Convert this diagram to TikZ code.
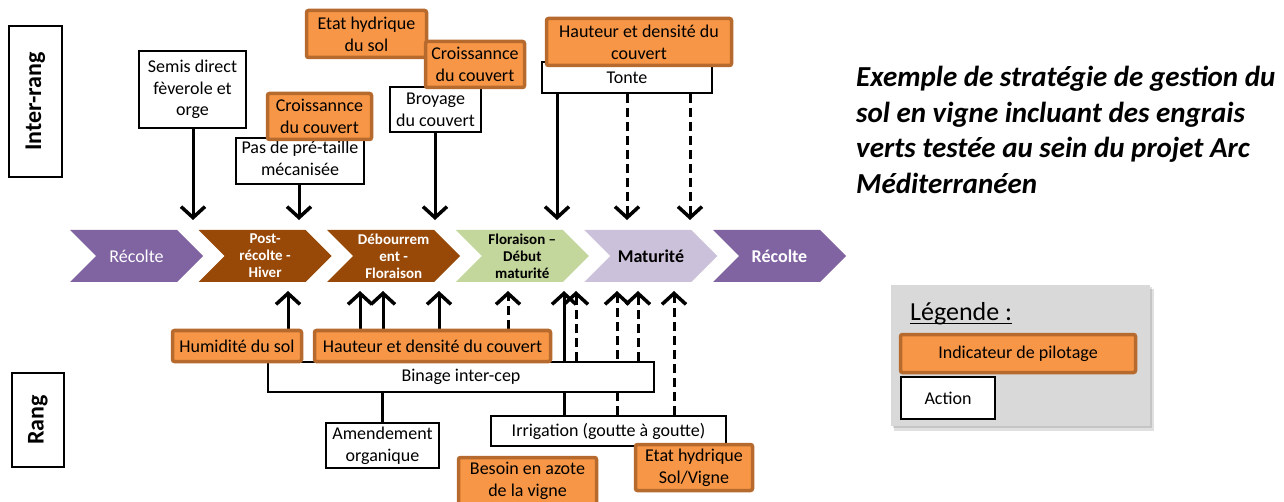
\documentclass[tikz,border=0pt]{standalone}
\usepackage{fontspec}
\setmainfont{Carlito}
\usetikzlibrary{arrows.meta}
\pgfdeclarelayer{bg}
\pgfsetlayers{bg,main}
\definecolor{orfill}{HTML}{F79646}
\definecolor{orbord}{HTML}{B66A2E}
\definecolor{purp}{HTML}{8064A2}
\definecolor{brwn}{HTML}{984807}
\definecolor{grn}{HTML}{C3D69B}
\definecolor{lav}{HTML}{CCC1DA}
\definecolor{leggray}{HTML}{D9D9D9}
\newcommand\fbody{\fontsize{18}{21.7}\selectfont}
\newcommand\fchev{\fontsize{15}{17}\selectfont\bfseries}
\newcommand\fchevbig{\fontsize{18}{21}\selectfont}
\newcommand\mychev[2]{\fill[#1] #2 -- ++(107,0) -- ++(26,26) -- ++(-26,26) -- ++(-107,0) -- ++(26,-26) -- cycle;}
\begin{document}
\begin{tikzpicture}[x=1pt,y=-1pt,
  ind/.style={draw=orbord, fill=orfill, line width=3.5pt, rounded corners=2pt, inner sep=0pt, align=center, font=\fbody},
  act/.style={draw=black, fill=white, line width=1.6pt, inner sep=0pt, align=center, font=\fbody},
  lab/.style={draw=black, fill=white, line width=1.6pt, inner sep=0pt, font=\fontsize{24}{28}\selectfont\bfseries},
  chevtxt/.style={align=center, inner sep=0pt},
  arr/.style={line width=3pt, -{Straight Barb[length=11pt,width=24pt,line width=3.5pt]}},
  dsh/.style={arr, dash pattern=on 9pt off 5pt}
]
\useasboundingbox (0,0) rectangle (1284,502);

% side labels
\node[lab, minimum width=53pt, minimum height=151pt] (inter) at (35.5,101.5) {};
\node[rotate=90, font=\fontsize{24}{28}\selectfont\bfseries] at (inter.center) {Inter-rang};
\node[lab, minimum width=52pt, minimum height=94pt] (rang) at (38,420) {};
\node[rotate=90, font=\fontsize{24}{28}\selectfont\bfseries] at (rang.center) {Rang};

% chevrons
\mychev{purp}{(70,230)}
\mychev{brwn}{(198.6,230)}
\mychev{brwn}{(327.2,230)}
\mychev{grn}{(455.8,230)}
\mychev{lav}{(584.4,230)}
\mychev{purp}{(713,230)}
\node[chevtxt, text=white, font=\fchevbig] (c1) at (136.5,256) {Récolte};
\node[chevtxt, text=white, font=\fchev] (c2) at (265.1,256) {Post-\\récolte -\\Hiver};
\node[chevtxt, text=white, font=\fchev] (c3) at (393.7,256) {Débourrem\\ent -\\Floraison};
\node[chevtxt, text=black, font=\fchev] (c4) at (522.3,256) {Floraison –\\Début\\maturité};
\node[chevtxt, text=black, font=\fchevbig\bfseries] (c5) at (650.9,256) {Maturité};
\node[chevtxt, text=white, font=\fchevbig\bfseries] (c6) at (779.5,256) {Récolte};

% top boxes
\node[act, minimum width=107pt, minimum height=77pt] (semis) at (192.5,89.5) {Semis direct\\fèverole et\\orge};
\node[act, minimum width=128pt, minimum height=46pt] (pas) at (300,161) {\\[-14pt]Pas de pré-taille\\mécanisée};
\node[ind, minimum width=104pt, minimum height=46pt] (cr1) at (319.5,116.5) {Croissannce\\du couvert};
\node[ind, minimum width=120pt, minimum height=47pt] (etat1) at (366.5,34) {Etat hydrique\\du sol};
\node[act, minimum width=91pt, minimum height=45pt] (broy) at (435.5,109.5) {Broyage\\du couvert};
\node[ind, minimum width=99pt, minimum height=46pt] (cr2) at (475,64.5) {Croissannce\\du couvert};
\node[act, minimum width=170pt, minimum height=31pt] (tonte) at (627,77.5) {Tonte};
\node[ind, minimum width=185pt, minimum height=47pt] (haut1) at (639,42) {Hauteur et densité du\\couvert};

% bottom boxes
\node[act, minimum width=386pt, minimum height=30pt] (binage) at (461,377) {Binage inter-cep};
\node[ind, minimum width=129pt, minimum height=31pt] (hum) at (237,346) {Humidité du sol};
\node[ind, minimum width=236pt, minimum height=31pt] (haut2) at (432.5,346) {Hauteur et densité du couvert};
\node[act, minimum width=113pt, minimum height=45pt] (amend) at (382.5,445.5) {Amendement\\organique};
\node[act, minimum width=235pt, minimum height=30pt] (irrig) at (608.5,431) {Irrigation (goutte à goutte)};
\node[ind, minimum width=138pt, minimum height=47pt] (besoin) at (527.5,481) {Besoin en azote\\de la vigne};
\node[ind, minimum width=117pt, minimum height=46pt] (etat2) at (694,467.5) {Etat hydrique\\Sol/Vigne};

% arrow tips
\coordinate (a1) at (193,220);
\coordinate (a2) at (299,220);
\coordinate (a3) at (435,220);
\coordinate (a4) at (557,220);
\coordinate (a5) at (627,220);
\coordinate (a6) at (690,220);
\coordinate (b1) at (288,291);
\coordinate (b2) at (360,291);
\coordinate (b3) at (383,291);
\coordinate (b4) at (439,291);
\coordinate (b5) at (508,291);
\coordinate (b6) at (564,291);
\coordinate (b7) at (576,291);
\coordinate (b8) at (617,291);
\coordinate (b9) at (638,291);
\coordinate (b10) at (674,291);

\begin{pgfonlayer}{bg}
\draw[arr] (semis.south -| a1) -- (a1);
\draw[arr] (pas.south -| a2) -- (a2);
\draw[arr] (broy.south -| a3) -- (a3);
\draw[arr] (tonte.south -| a4) -- (a4);
\draw[dsh] (tonte.south -| a5) -- (a5);
\draw[dsh] (tonte.south -| a6) -- (a6);
\draw[arr] (hum.north -| b1) -- (b1);
\draw[arr] (haut2.north -| b2) -- (b2);
\draw[arr] (haut2.north -| b3) -- (b3);
\draw[arr] (haut2.north -| b4) -- (b4);
\draw[dsh] (haut2.north -| b5) -- (b5);
\draw[arr] (irrig.north -| b6) -- (b6);
\draw[dsh] (binage.north -| b7) -- (b7);
\draw[dsh] (irrig.north -| b8) -- (b8);
\draw[dsh] (binage.north -| b9) -- (b9);
\draw[dsh] (irrig.north -| b10) -- (b10);
\draw[line width=3pt] (amend.north) -- (amend.north |- binage.south);
\end{pgfonlayer}

% title (base = baseline of last line)
\node[anchor=base west, align=left, inner sep=0pt, font=\fontsize{29}{35.5}\selectfont\bfseries\itshape] (title) at (856,193.5)
  {Exemple de stratégie de gestion du\\sol en vigne incluant des engrais\\verts testée au sein du projet Arc\\Méditerranéen};

% legend
\fill[black, opacity=0.12] (894,289) rectangle (1154,431);
\fill[black, opacity=0.12] (893,287) rectangle (1152,428);
\node[fill=leggray, minimum width=259pt, minimum height=141pt, inner sep=0pt] (legend) at (1020.5,355.5) {};
\node[anchor=base west, inner sep=0pt, font=\fontsize{26}{30}\selectfont] (legt) at (910,321) {Légende :};
\draw[line width=1pt] ([yshift=-3pt]legt.base west) -- ([yshift=-3pt]legt.base east);
\node[ind, minimum width=235pt, minimum height=38pt] (legind) at (1018,353.5) {Indicateur de pilotage};
\node[act, minimum width=94pt, minimum height=42pt] (legact) at (948,398) {Action};
\end{tikzpicture}
\end{document}
